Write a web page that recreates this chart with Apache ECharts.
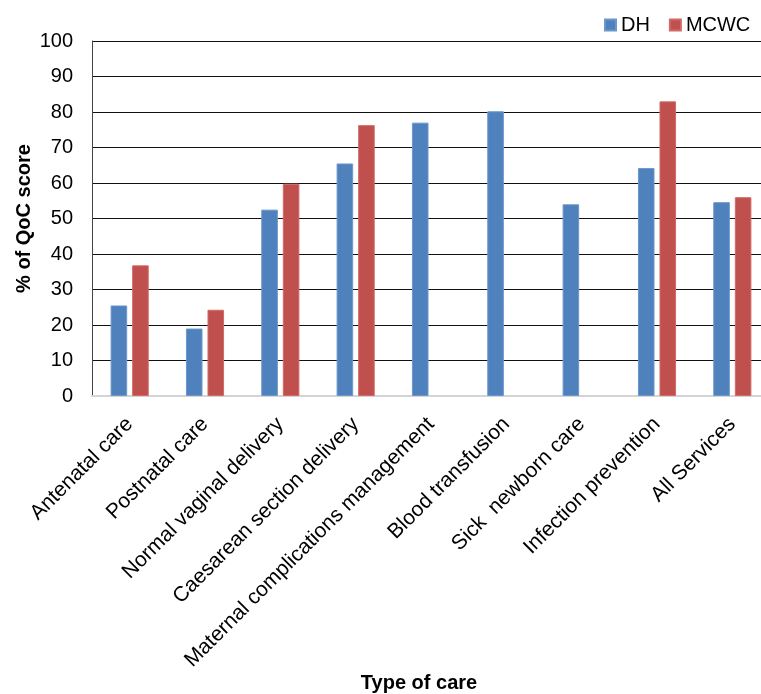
<!DOCTYPE html>
<html>
<head>
<meta charset="utf-8">
<script src="https://cdn.jsdelivr.net/npm/echarts@6/dist/echarts.min.js"></script>
<style>
  html, body { margin: 0; padding: 0; background: #fff; }
  #chart { width: 761px; height: 694px; }
</style>
</head>
<body>
<div id="chart"></div>
<script>
var categories = ['Antenatal care', 'Postnatal care', 'Normal vaginal delivery', 'Caesarean section delivery',
    'Maternal complications management', 'Blood transfusion', 'Sick  newborn care', 'Infection prevention', 'All Services'];
var dhValues = [25.5, 19, 52.5, 65.5, 77, 80.2, 54, 64.2, 54.6];
var mcwcValues = [36.8, 24.3, 59.8, 76.3, null, null, null, 83, 56];
var yTicks = [0, 10, 20, 30, 40, 50, 60, 70, 80, 90, 100];

var font = "'Liberation Sans', Arial, sans-serif";
var chart = echarts.init(document.getElementById('chart'));

var option = {
    animation: false,
    textStyle: { fontFamily: font },
    legend: {
        left: 599,
        top: 10,
        width: 200,
        itemWidth: 11,
        itemHeight: 11,
        itemGap: 19,
        icon: 'rect',
        textStyle: { fontSize: 20, color: '#000', fontFamily: font },
        data: ['DH', 'MCWC']
    },
    grid: { left: 92, top: 41, right: -9, bottom: 298, containLabel: false, outerBoundsMode: 'none' },
    xAxis: {
        type: 'category',
        data: categories,
        name: 'Type of care',
        nameLocation: 'middle',
        nameGap: 277,
        nameMoveOverlap: false,
        nameTextStyle: { fontSize: 20, fontWeight: 'bold', color: '#000', padding: [0, 24, 0, 0] },
        axisLine: { lineStyle: { color: '#d4d4d4', width: 2 } },
        axisTick: { show: false },
        axisLabel: { rotate: 45, interval: 0, margin: 25, fontSize: 21, color: '#000' }
    },
    yAxis: {
        type: 'value',
        min: yTicks[0],
        max: yTicks[yTicks.length - 1],
        interval: 10,
        name: '% of QoC score',
        nameLocation: 'middle',
        nameGap: 58,
        nameMoveOverlap: false,
        nameTextStyle: { fontSize: 20, fontWeight: 'bold', color: '#000' },
        axisLine: { show: true, lineStyle: { color: '#444', width: 1 } },
        axisTick: { show: false },
        axisLabel: { margin: 19, fontSize: 20, color: '#000' },
        splitLine: { lineStyle: { color: '#111', width: 1 } }
    },
    series: [
        {
            name: 'DH',
            type: 'bar',
            data: dhValues,
            barWidth: '22%',
            barGap: '30%',
            itemStyle: { color: '#4F81BD', borderColor: '#6b97cc', borderWidth: 1 }
        },
        {
            name: 'MCWC',
            type: 'bar',
            data: mcwcValues,
            barWidth: '22%',
            barGap: '30%',
            itemStyle: { color: '#C0504D', borderColor: '#d06a67', borderWidth: 1 }
        }
    ]
};

chart.setOption(option);
</script>
</body>
</html>
